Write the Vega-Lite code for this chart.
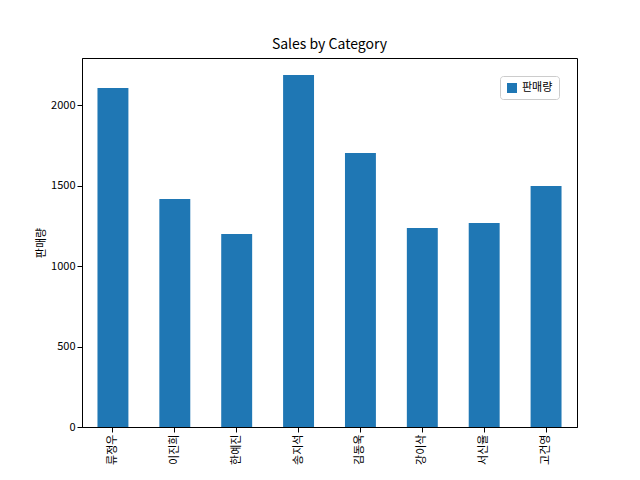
{"$schema":"https://vega.github.io/schema/vega-lite/v6.json","width":495,"height":369,"padding":{"left":35,"top":38,"right":5,"bottom":5},"title":{"text":"Sales by Category","font":"Noto Sans CJK KR","fontSize":14,"fontWeight":"normal","offset":6},
"config":{"view":{"stroke":"black"},"axis":{"labelFont":"Noto Sans CJK KR","titleFont":"Noto Sans CJK KR","labelFontSize":11,"titleFontSize":11,"titleFontWeight":"normal","grid":false,"tickColor":"black","domainColor":"black","labelColor":"black"}},
"data":{"values":[{"n":"류정우","v":2106,"s":"판매량"},{"n":"이진희","v":1416,"s":"판매량"},{"n":"한예진","v":1199,"s":"판매량"},{"n":"송지석","v":2186,"s":"판매량"},{"n":"김동욱","v":1702,"s":"판매량"},{"n":"강이삭","v":1236,"s":"판매량"},{"n":"서신율","v":1267,"s":"판매량"},{"n":"고건영","v":1497,"s":"판매량"}]},
"mark":{"type":"bar"},
"encoding":{"x":{"field":"n","type":"nominal","sort":null,"title":null,"scale":{"paddingInner":0.5,"paddingOuter":0.25},"axis":{"labelAngle":-90}},
"y":{"field":"v","type":"quantitative","title":"판매량","scale":{"domain":[0,2292],"nice":false},"axis":{"values":[0,500,1000,1500,2000],"format":"d"}},
"color":{"field":"s","type":"nominal","scale":{"range":["#1f77b4"]},"legend":{"title":null,"orient":"top-right","labelFont":"Noto Sans CJK KR","labelFontSize":11,"symbolType":"square","strokeColor":"#ccc","padding":6,"cornerRadius":3,"fillColor":"white"}}}}
